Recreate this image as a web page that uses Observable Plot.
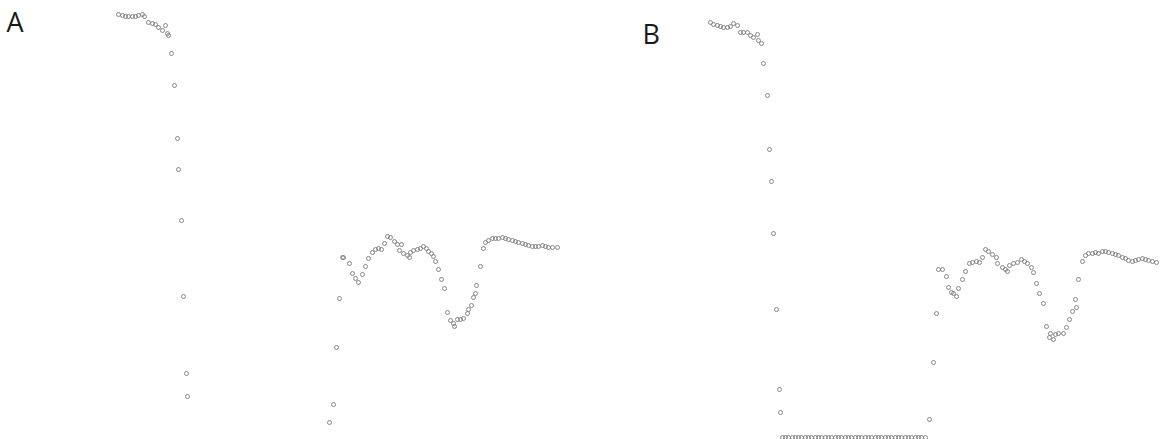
<!DOCTYPE html>
<html>
<head>
<meta charset="utf-8">
<script src="https://cdn.jsdelivr.net/npm/d3@7"></script>
<script src="https://cdn.jsdelivr.net/npm/@observablehq/plot@0.6"></script>
<style>
  html, body { margin: 0; padding: 0; background: #fff; }
  #wrap { display: flex; width: 1164px; height: 439px; }
</style>
</head>
<body>
<div id="wrap"></div>
<script>
// Panel labels
const panelLabels = ["A", "B"];

// Panel A: [channel, depth] readings
const panelATop = [[118,14],[122,15],[125,16],[128,16],[132,16],[135,16],[138,15],[142,14],[144,16],[148,22],[152,23],[155,24],[158,27],[162,30],[165,25],[167,33],[168,35]];
const panelADrop = [[171,53],[174,85],[177,138],[178,169],[181,220],[183,296],[186,373],[187,396]];
const panelARise = [[329,422],[333,404],[336,347],[339,298],[342,257],[343,257],[349,263],[352,273],[355,278],[358,282],[362,274],[365,266],[368,258],[372,252],[375,249],[378,248],[381,249],[384,243],[387,236],[390,237],[394,241],[397,244],[399,250],[401,244],[403,253],[407,255],[409,257],[410,252],[413,250],[417,249],[420,248],[423,246],[426,248],[428,251],[431,253],[433,256],[435,261],[438,269],[441,279],[444,288],[447,312],[450,320],[453,323],[454,326],[457,319],[460,319],[463,318],[467,313],[468,309],[471,305],[473,297],[475,293],[476,285],[480,266],[483,248],[485,242],[488,240],[492,238],[495,238],[498,238],[502,237],[505,238],[508,239],[512,240],[515,241],[518,242],[522,243],[525,244],[528,245],[532,246],[535,246],[538,246],[542,245],[545,246],[548,247],[552,247],[557,247]];

// Panel B: [channel, depth] readings
const panelBTop = [[710,22],[713,24],[717,25],[720,26],[723,27],[727,27],[730,26],[733,23],[737,25],[740,32],[743,32],[747,32],[750,35],[753,37],[757,34],[758,40],[761,43]];
const panelBDrop = [[763,63],[767,95],[769,149],[771,181],[773,233],[776,309],[779,389],[780,412]];
const panelBFloor = [[782,437],[785,437],[788,437],[792,437],[795,437],[798,437],[801,437],[805,437],[808,437],[811,437],[815,437],[818,437],[821,437],[825,437],[828,437],[831,437],[835,437],[838,437],[841,437],[845,437],[848,437],[851,437],[855,437],[858,437],[861,437],[865,437],[868,437],[871,437],[875,437],[878,437],[881,437],[885,437],[888,437],[891,437],[895,437],[898,437],[901,437],[905,437],[908,437],[911,437],[915,437],[918,437],[921,437],[925,437]];
const panelBRise = [[929,419],[933,362],[936,313],[938,269],[942,269],[946,276],[948,287],[951,292],[953,293],[956,296],[958,288],[962,279],[965,271],[969,263],[972,262],[976,261],[979,262],[982,257],[985,249],[988,251],[992,254],[996,257],[997,263],[1002,267],[1005,269],[1007,271],[1009,265],[1013,263],[1017,262],[1021,259],[1024,261],[1027,263],[1031,267],[1033,272],[1036,283],[1039,293],[1043,303],[1046,326],[1049,337],[1050,333],[1053,339],[1055,334],[1058,333],[1063,333],[1066,327],[1069,319],[1072,311],[1076,307],[1075,299],[1078,279],[1082,261],[1085,255],[1088,253],[1092,253],[1095,252],[1098,253],[1102,251],[1105,251],[1108,252],[1112,253],[1115,254],[1118,255],[1122,257],[1125,258],[1128,260],[1132,261],[1135,260],[1138,259],[1142,258],[1145,259],[1148,260],[1152,261],[1156,262]];

const panelA = [...panelATop, ...panelADrop, ...panelARise];
const panelB = [...panelBTop, ...panelBDrop, ...panelBFloor, ...panelBRise];

function panel(data, label, xDomain, labelDx, labelDy) {
  return Plot.plot({
    width: 582,
    height: 439,
    margin: 0,
    style: { background: "#fff", overflow: "visible" },
    x: { domain: xDomain, axis: null },
    y: { domain: [0, 439], range: [0, 439], axis: null },
    marks: [
      Plot.dot(data, {
        x: d => d[0], y: d => d[1], r: 2,
        fill: "none", stroke: "#7c7c7c", strokeWidth: 0.9
      }),
      Plot.text([label], {
        text: d => d, frameAnchor: "top-left", dx: labelDx, dy: labelDy,
        fontSize: 27, fill: "#1a1a1a",
        fontFamily: "'Open Sans', 'Liberation Sans', sans-serif"
      })
    ]
  });
}

const wrap = document.getElementById("wrap");
wrap.appendChild(panel(panelA, panelLabels[0], [0, 582], 6, 12));
wrap.appendChild(panel(panelB, panelLabels[1], [582, 1164], 60, 24));
</script>
</body>
</html>
